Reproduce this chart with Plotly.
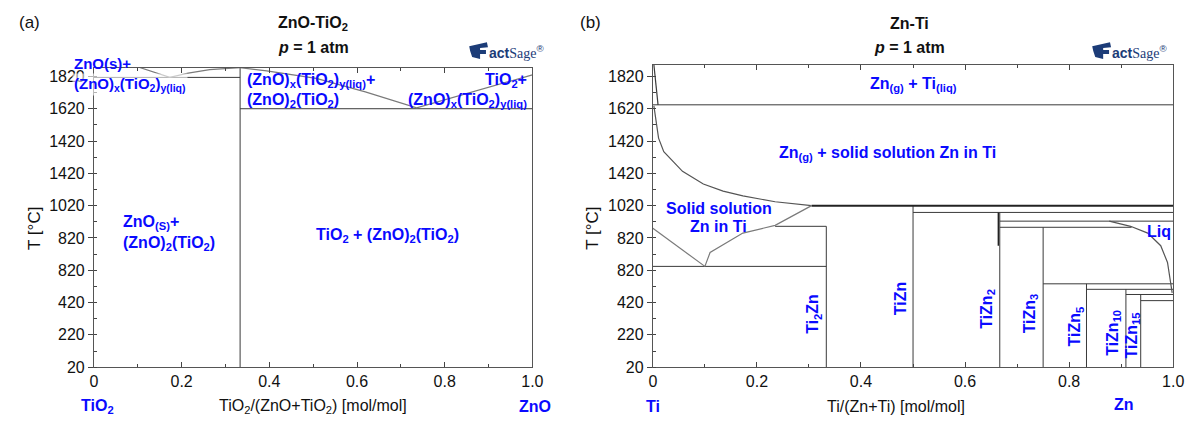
import plotly.graph_objects as go

W, H = 1194, 423

# ---------------- data ----------------
# y axis is drawn on an index scale (one unit per labelled tick)
y_tickvals = [0, 1, 2, 3, 4, 5, 6, 7, 8, 9]
y_ticktext = ['20', '220', '420', '820', '820', '1020', '1420', '1420', '1620', '1820']
x_tickvals = [0, 0.2, 0.4, 0.6, 0.8, 1.0]
x_ticktext = ['0', '0.2', '0.4', '0.6', '0.8', '1.0']

# (a) ZnO-TiO2
a_compound_x = [1 / 3]                      # (ZnO)2(TiO2)
a_hlines = [(0.0, 1 / 3, 8.97), (1 / 3, 1.0, 8.0)]   # (x0, x1, level)
a_liq_left_x = [0.099, 0.136, 0.173, 0.215, 0.264, 0.333]
a_liq_left_y = [9.30, 9.13, 8.97, 9.10, 9.21, 9.27]
a_liq_right_x = [0.333, 0.394, 0.507, 0.619, 0.736, 0.86, 1.0]
a_liq_right_y = [9.27, 9.17, 8.94, 8.52, 8.03, 8.52, 9.05]

# (b) Zn-Ti
b_verticals = [(1 / 3, 0, 4.36), (0.5, 0, 5.0), (2 / 3, 0, 4.79), (0.75, 0, 4.33),
               (5 / 6, 0, 2.58), (10 / 11, 0, 2.41), (0.9375, 0, 2.25)]
b_hlines = [(0.0, 1.0, 8.12), (0.5, 1.0, 4.79), (2 / 3, 1.0, 4.52), (2 / 3, 0.92, 4.33),
            (0.235, 1 / 3, 4.36), (0.0, 1 / 3, 3.12), (0.75, 1.0, 2.58),
            (5 / 6, 1.0, 2.41), (10 / 11, 1.0, 2.25), (0.9375, 1.0, 2.06)]
b_thick_line = (0.305, 1.0, 5.0)
b_tizn2_range = (0.664, 3.76, 4.79)
b_top_x = [0.002, 0.004, 0.007, 0.010]
b_top_y = [9.36, 9.0, 8.5, 8.12]
b_upper_x = [0.002, 0.006, 0.011, 0.021, 0.040, 0.057, 0.097, 0.135, 0.173, 0.235, 0.305]
b_upper_y = [8.09, 7.58, 7.09, 6.67, 6.33, 6.06, 5.67, 5.45, 5.30, 5.12, 5.0]
b_lower_x = [0.305, 0.235, 0.173, 0.110, 0.100]
b_lower_y = [5.0, 4.39, 4.15, 3.55, 3.12]
b_left_x = [0.0, 0.046, 0.100]
b_left_y = [4.30, 3.76, 3.12]
b_liq_x = [0.877, 0.918, 0.951, 0.976, 0.989, 0.994, 0.996, 0.998]
b_liq_y = [4.52, 4.36, 4.15, 3.76, 3.24, 2.73, 2.58, 2.30]

# ---------------- helpers ----------------
LINE = '#3a3a3a'
CURVE = '#7a7a7a'
BLUE = '#0a0aff'
NAVY = '#1c3c78'
FONT = 'Arial, Liberation Sans, Arimo, sans-serif'


def seg_xy(hl=(), vl=()):
    xs, ys = [], []
    for x0, x1, y in hl:
        xs += [x0, x1, None]
        ys += [y, y, None]
    for x, y0, y1 in vl:
        xs += [x, x, None]
        ys += [y0, y1, None]
    return xs, ys


def px(x, y):
    return x / W, 1 - y / H


fig = go.Figure()

# panel (a)
xs, ys = seg_xy(a_hlines, [(x, 0, 9.27) for x in a_compound_x])
fig.add_trace(go.Scatter(x=xs, y=ys, mode='lines', line=dict(color=LINE, width=1),
                         xaxis='x', yaxis='y', hoverinfo='skip'))
fig.add_trace(go.Scatter(x=a_liq_left_x, y=a_liq_left_y, mode='lines',
                         line=dict(color=CURVE, width=1.2), xaxis='x', yaxis='y'))
fig.add_trace(go.Scatter(x=a_liq_right_x, y=a_liq_right_y, mode='lines',
                         line=dict(color=CURVE, width=1.2), xaxis='x', yaxis='y'))

# panel (b)
xs, ys = seg_xy(b_hlines, b_verticals)
fig.add_trace(go.Scatter(x=xs, y=ys, mode='lines', line=dict(color=LINE, width=1),
                         xaxis='x2', yaxis='y2'))
fig.add_trace(go.Scatter(x=[b_thick_line[0], b_thick_line[1]], y=[b_thick_line[2]] * 2,
                         mode='lines', line=dict(color='#222', width=2), xaxis='x2', yaxis='y2'))
fig.add_trace(go.Scatter(x=[b_tizn2_range[0]] * 2, y=[b_tizn2_range[1], b_tizn2_range[2]],
                         mode='lines', line=dict(color='#222', width=1.5), xaxis='x2', yaxis='y2'))
for cx, cy, col in [(b_top_x, b_top_y, LINE), (b_upper_x, b_upper_y, '#555'),
                    (b_lower_x, b_lower_y, CURVE), (b_left_x, b_left_y, CURVE),
                    (b_liq_x, b_liq_y, '#555')]:
    fig.add_trace(go.Scatter(x=cx, y=cy, mode='lines', line=dict(color=col, width=1.2),
                             xaxis='x2', yaxis='y2'))

# ---------------- axes ----------------
bottom = 1 - 367 / H
xa = dict(range=[0, 1], tickvals=x_tickvals, ticktext=x_ticktext, ticks='inside', ticklen=5,
          tickcolor='#444', showline=True, linecolor='#555', linewidth=1, mirror='ticks',
          showgrid=False, zeroline=False, tickfont=dict(size=16, color='#111', family=FONT),
          minor=dict(dtick=0.1, ticks='inside', ticklen=3, tickcolor='#444'))
ya = dict(tickvals=y_tickvals, ticktext=y_ticktext, ticks='outside', ticklen=5,
          tickcolor='#444', showline=True, linecolor='#555', linewidth=1, mirror=True,
          showgrid=False, zeroline=False, tickfont=dict(size=16, color='#111', family=FONT),
          minor=dict(dtick=0.5, ticks='inside', ticklen=3, tickcolor='#444'))

shapes = []


def logo(x0, y0):
    # stylised FactSage "F" block
    pts = [(x0, y0 + 4), (x0 + 18, y0), (x0 + 19, y0 + 5), (x0 + 11, y0 + 6), (x0 + 11, y0 + 8),
           (x0 + 17, y0 + 8), (x0 + 17, y0 + 12), (x0 + 11, y0 + 12), (x0 + 11, y0 + 17),
           (x0 + 3, y0 + 15), (x0 + 1, y0 + 9)]
    path = 'M ' + ' L '.join('%.4f,%.4f' % px(a, b) for a, b in pts) + ' Z'
    shapes.append(dict(type='path', xref='paper', yref='paper', path=path,
                       fillcolor=NAVY, line=dict(width=0)))


logo(463, 35)
logo(1094, 35)

fig.update_layout(
    width=W, height=H, autosize=False, showlegend=False,
    margin=dict(l=0, r=0, t=0, b=0),
    paper_bgcolor='white', plot_bgcolor='white',
    xaxis=dict(xa, domain=[83 / W, 527 / W], anchor='y'),
    yaxis=dict(ya, domain=[bottom, 1 - 61 / H], range=[0, 9.27], anchor='x'),
    xaxis2=dict(xa, domain=[649 / W, 1176 / W], anchor='y2'),
    yaxis2=dict(ya, domain=[bottom, 1 - 58 / H], range=[0, 9.36], anchor='x2'),
    shapes=shapes,
)

ann = []


def text(x, y, t, size=16, color='#111', xanchor='center', angle=0, bg=None, xref='paper', yref='paper'):
    if xref == 'paper':
        x, y = px(x, y)
    d = dict(x=x, y=y, xref=xref, yref=yref, text=t, showarrow=False, xanchor=xanchor,
             yanchor='middle', textangle=angle, font=dict(size=size, color=color, family=FONT))
    if bg:
        d['bgcolor'] = bg
    ann.append(d)


# titles
text(18, 15, '(a)', 17)
text(586, 15, '(b)', 17)
text(305, 16, '<b>ZnO-TiO<sub>2</sub></b>', 16)
text(305, 40, '<b><i>p</i> = 1 atm</b>', 16)
text(909, 16, '<b>Zn-Ti</b>', 16)
text(909, 40, '<b><i>p</i> = 1 atm</b>', 16)
# FactSage logo text
for lx in (481, 1112):
    text(lx, 45, '<b>act</b><span style="font-family:Liberation Serif, serif">Sage</span><sup>®</sup>',
         14, NAVY, 'left')

# axis titles
text(22, 225, 'T [°C]', 17, angle=-90)
text(588, 225, 'T [°C]', 17, angle=-90)
text(305, 407, 'TiO<sub>2</sub>/(ZnO+TiO<sub>2</sub>) [mol/mol]', 16)
text(895, 407, 'Ti/(Zn+Ti) [mol/mol]', 16)
text(87, 407, '<b>TiO<sub>2</sub></b>', 16, BLUE)
text(530, 407, '<b>ZnO</b>', 16, BLUE)
text(649, 407, '<b>Ti</b>', 16, BLUE)
text(1126, 405, '<b>Zn</b>', 16, BLUE)

# phase labels (a)
text(61, 57, '<b>ZnO(s)+</b>', 15, BLUE, 'left')
text(61, 78, '<b>(ZnO)<sub>x</sub>(TiO<sub>2</sub>)<sub>y(liq)</sub></b>', 15, BLUE, 'left',
     bg='rgba(255,255,255,0.6)')
text(236, 74, '<b>(ZnO)<sub>x</sub>(TiO<sub>2</sub>)<sub>y(liq)</sub>+</b>', 16, BLUE, 'left')
text(236, 94, '<b>(ZnO)<sub>2</sub>(TiO<sub>2</sub>)</b>', 16, BLUE, 'left')
text(524, 74, '<b>TiO<sub>2</sub>+</b>', 16, BLUE, 'right')
text(524, 94, '<b>(ZnO)<sub>x</sub>(TiO<sub>2</sub>)<sub>y(liq)</sub></b>', 16, BLUE, 'right')
text(110, 219, '<b>ZnO<sub>(S)</sub>+</b>', 16, BLUE, 'left')
text(110, 241, '<b>(ZnO)<sub>2</sub>(TiO<sub>2</sub>)</b>', 16, BLUE, 'left')
text(380, 232, '<b>TiO<sub>2</sub> + (ZnO)<sub>2</sub>(TiO<sub>2</sub>)</b>', 16, BLUE)

# phase labels (b)
text(0.5, 8.75, '<b>Zn<sub>(g)</sub> + Ti<sub>(liq)</sub></b>', 16, BLUE, xref='x2', yref='y2')
text(0.45, 6.6, '<b>Zn<sub>(g)</sub> + solid solution Zn in Ti</b>', 16, BLUE, xref='x2', yref='y2')
text(0.127, 4.9, '<b>Solid solution</b>', 16, BLUE, xref='x2', yref='y2')
text(0.127, 4.36, '<b>Zn in Ti</b>', 16, BLUE, xref='x2', yref='y2')
text(0.973, 4.2, '<b>Liq</b>', 16, BLUE, xref='x2', yref='y2')
for lx, ly, t in [(0.309, 1.64, 'Ti<sub>2</sub>Zn'), (0.476, 2.12, 'TiZn'),
                  (0.643, 1.82, 'TiZn<sub>2</sub>'), (0.725, 1.67, 'TiZn<sub>3</sub>'),
                  (0.812, 1.27, 'TiZn<sub>5</sub>'), (0.886, 1.06, 'TiZn<sub>10</sub>'),
                  (0.922, 0.97, 'TiZn<sub>15</sub>')]:
    text(lx, ly, '<b>' + t + '</b>', 16, BLUE, angle=-90, xref='x2', yref='y2')

fig.update_layout(annotations=ann)
fig.write_html('out.html')
